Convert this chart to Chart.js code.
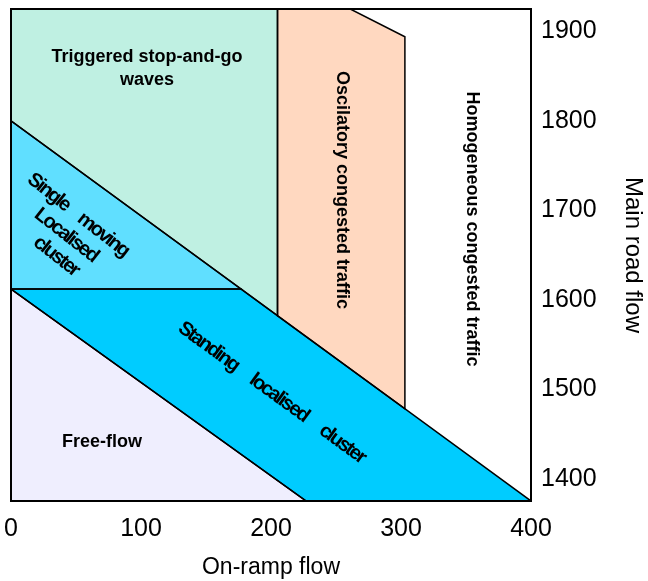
<!DOCTYPE html>
<html lang="en">
<head>
    <meta charset="UTF-8">
    <title>Congested traffic patterns at an on-ramp</title>
    <script src="https://cdn.jsdelivr.net/npm/chart.js"></script>
    <style>
        body { margin: 0; background: #fff; }
        #wrap { width: 648px; height: 581px; }
    </style>
</head>
<body>

<div id="wrap">
    <canvas id="diagramChart"></canvas>
</div>

<script>
    // Ticks
    const xTicks = [0, 100, 200, 300, 400];
    const yTicks = [1400, 1500, 1600, 1700, 1800, 1900];

    // Region outlines (on-ramp flow, main road flow)
    const freeFlowX = [0, 227, 0];
    const freeFlowY = [1612, 1375, 1375];
    const standingX = [0, 177, 400, 227];
    const standingY = [1612, 1612, 1375, 1375];
    const singleMovingX = [0, 177, 0];
    const singleMovingY = [1800, 1612, 1612];
    const triggeredX = [0, 205, 205, 0];
    const triggeredY = [1925, 1925, 1582, 1800];
    const oscillatoryX = [205, 261, 303, 303, 205];
    const oscillatoryY = [1925, 1925, 1894, 1478, 1582];

    // closed outline for the border, 'shape' fill for the inside
    function region(xs, ys, color) {
        const pts = xs.map((x, i) => ({ x: x, y: ys[i] }));
        pts.push(pts[0]);
        return {
            data: pts,
            showLine: true,
            fill: 'shape',
            backgroundColor: color,
            borderColor: '#000',
            borderWidth: 1.5,
            pointRadius: 0,
            tension: 0
        };
    }

    // Text written inside the regions
    const bold = 'bold 18px "Liberation Sans", Arial, sans-serif';
    const narrow = 'bold 20px "Liberation Sans", Arial, sans-serif';
    const regionLabels = [
        { lines: ['Triggered stop-and-go', 'waves'], x: 104.6, y: 1858.5, angle: 0, font: bold },
        { lines: ['Oscilatory congested traffic'], x: 254.6, y: 1722.7, angle: 90, font: bold },
        { lines: ['Homogeneous congested traffic'], x: 354.6, y: 1679, angle: 90, font: bold },
        { lines: ['Free-flow'], x: 70, y: 1441, angle: 0, font: bold },
        { lines: ['Single moving'], x: 51.5, y: 1694.7, angle: 38, font: narrow, spacing: '-2px', words: '12px' },
        { lines: ['Localised'], x: 42.3, y: 1672.3, angle: 38, font: narrow, spacing: '-2px' },
        { lines: ['cluster'], x: 34.6, y: 1648.9, angle: 38, font: narrow, spacing: '-2px' },
        { lines: ['Standing localised cluster'], x: 200.4, y: 1496.3, angle: 36, font: narrow, spacing: '-2px', words: '15px' }
    ];

    const regionText = {
        id: 'regionText',
        afterDatasetsDraw(chart) {
            const ctx = chart.ctx;
            const xs = chart.scales.x, ys = chart.scales.y;
            regionLabels.forEach(l => {
                ctx.save();
                ctx.translate(xs.getPixelForValue(l.x), ys.getPixelForValue(l.y));
                ctx.rotate(l.angle * Math.PI / 180);
                ctx.font = l.font;
                ctx.letterSpacing = l.spacing || '0px';
                ctx.wordSpacing = l.words || '0px';
                ctx.fillStyle = '#000';
                ctx.textAlign = 'center';
                ctx.textBaseline = 'middle';
                l.lines.forEach((t, i) => {
                    ctx.fillText(t, 0, (i - (l.lines.length - 1) / 2) * 23);
                });
                ctx.restore();
            });
        }
    };

    // black frame round the plot
    const frame = {
        id: 'frame',
        afterDraw(chart) {
            const { ctx, chartArea: a } = chart;
            ctx.save();
            ctx.strokeStyle = '#000';
            ctx.lineWidth = 2;
            ctx.strokeRect(a.left, a.top, a.right - a.left, a.bottom - a.top);
            ctx.restore();
        }
    };

    Chart.defaults.font.family = '"Liberation Sans", Arial, sans-serif';
    Chart.defaults.color = '#000';

    const ctx = document.getElementById('diagramChart').getContext('2d');
    window.diagramChart = new Chart(ctx, {
        type: 'scatter',
        data: {
            datasets: [
                region(freeFlowX, freeFlowY, '#efeefe'),
                region(standingX, standingY, '#00ccff'),
                region(singleMovingX, singleMovingY, '#60dfff'),
                region(triggeredX, triggeredY, '#bff0e2'),
                region(oscillatoryX, oscillatoryY, '#ffd8c0')
            ]
        },
        options: {
            responsive: true,
            maintainAspectRatio: false,
            animation: false,
            layout: { padding: { left: 11, top: 9, right: 0, bottom: 0 } },
            plugins: {
                legend: { display: false },
                tooltip: { enabled: false },
                filler: { drawTime: 'beforeDatasetsDraw' }
            },
            scales: {
                x: {
                    type: 'linear',
                    position: 'bottom',
                    min: 0,
                    max: 400,
                    grid: { display: false, drawTicks: false },
                    border: { display: false },
                    ticks: {
                        font: { size: 25 }, padding: 13,
                        maxRotation: 0, autoSkip: false,
                        callback: v => String(v)
                    },
                    title: { display: true, text: 'On-ramp flow', font: { size: 23 }, padding: 0 },
                    afterBuildTicks: s => { s.ticks = xTicks.map(v => ({ value: v })); },
                    afterFit: s => { s.height = 80; s.paddingLeft = 0; s.paddingRight = 0; }
                },
                y: {
                    type: 'linear',
                    position: 'right',
                    min: 1375,
                    max: 1925,
                    grid: { display: false, drawTicks: false },
                    border: { display: false },
                    ticks: { font: { size: 25 }, padding: 10, autoSkip: false, callback: v => String(v) },
                    title: { display: true, text: 'Main road flow', font: { size: 24 }, padding: { top: 1, bottom: 0 } },
                    afterBuildTicks: s => { s.ticks = yTicks.map(v => ({ value: v })); },
                    afterFit: s => { s.width = 117; s.paddingTop = 0; s.paddingBottom = 0; }
                }
            }
        },
        plugins: [regionText, frame]
    });
</script>

</body>
</html>
